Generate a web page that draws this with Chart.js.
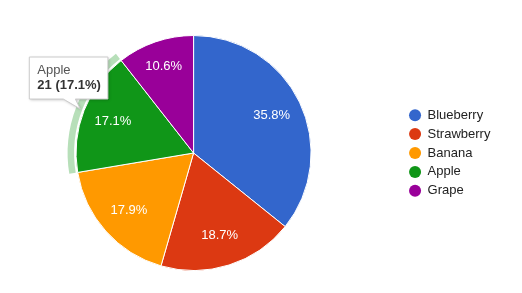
<!DOCTYPE html>
<html>
<head>
<meta charset="utf-8">
<script src="https://cdn.jsdelivr.net/npm/chart.js@4/dist/chart.umd.min.js"></script>
<style>
  html, body { margin: 0; padding: 0; background: #ffffff; }
  canvas { display: block; }
</style>
</head>
<body>
<canvas id="c" width="522" height="293"></canvas>
<script>
const categories = ['Blueberry', 'Strawberry', 'Banana', 'Apple', 'Grape'];
const values = [44, 23, 22, 21, 13];
const colors = ['#3366cc', '#dc3912', '#ff9900', '#109618', '#990099'];
const highlightIndex = 3;

const FONT = '"Liberation Sans", Arial, Helvetica, sans-serif';
const total = values.reduce((a, b) => a + b, 0);
const pct = v => (v / total * 100).toFixed(1) + '%';

function arcProps(chart, i) {
  const el = chart.getDatasetMeta(0).data[i];
  return el.getProps(['x', 'y', 'startAngle', 'endAngle', 'outerRadius'], true);
}

// Shift the pie's plotting area left so the pie sits left of centre, as in the reference.
const shiftArea = {
  id: 'shiftArea',
  afterLayout(chart) {
    const a = chart.chartArea;
    a.left -= 16;
    a.width = a.right - a.left;
  }
};

const sliceLabels = {
  id: 'sliceLabels',
  afterDatasetsDraw(chart) {
    const ctx = chart.ctx;
    ctx.save();
    ctx.font = '13px ' + FONT;
    ctx.fillStyle = '#ffffff';
    ctx.textAlign = 'center';
    ctx.textBaseline = 'middle';
    values.forEach((v, i) => {
      const p = arcProps(chart, i);
      const mid = (p.startAngle + p.endAngle) / 2;
      const frac = (p.endAngle - p.startAngle) / (2 * Math.PI);
      const r = p.outerRadius * (frac < 0.12 ? 0.78 : 0.737);
      ctx.fillText(pct(v), p.x + Math.cos(mid) * r, p.y + Math.sin(mid) * r);
    });
    ctx.restore();
  }
};

const hoverRing = {
  id: 'hoverRing',
  afterDatasetsDraw(chart) {
    const ctx = chart.ctx;
    const p = arcProps(chart, highlightIndex);
    ctx.save();
    ctx.beginPath();
    ctx.arc(p.x, p.y, p.outerRadius + 8.5, p.startAngle, p.endAngle);
    ctx.arc(p.x, p.y, p.outerRadius + 2, p.endAngle, p.startAngle, true);
    ctx.closePath();
    ctx.fillStyle = 'rgba(16,150,24,0.3)';
    ctx.fill();
    ctx.restore();
  }
};

const customTooltip = {
  id: 'customTooltip',
  afterDraw(chart) {
    const ctx = chart.ctx;
    const p = arcProps(chart, highlightIndex);
    const mid = (p.startAngle + p.endAngle) / 2;
    const tipX = p.x + Math.cos(mid) * (p.outerRadius + 4);
    const tipY = p.y + Math.sin(mid) * (p.outerRadius + 4);
    const line1 = categories[highlightIndex];
    const line2 = values[highlightIndex] + ' (' + pct(values[highlightIndex]) + ')';
    ctx.save();
    ctx.font = 'bold 13px ' + FONT;
    const w2 = ctx.measureText(line2).width;
    ctx.font = '13px ' + FONT;
    const w1 = ctx.measureText(line1).width;
    const bw = Math.max(w1, w2) + 15;
    const bh = 42;
    const bottom = tipY - 10;
    const top = bottom - bh;
    const left = tipX - 51;
    const right = left + bw;
    ctx.beginPath();
    ctx.moveTo(left, top);
    ctx.lineTo(right, top);
    ctx.lineTo(right, bottom);
    ctx.lineTo(tipX - 5, bottom);
    ctx.lineTo(tipX, tipY);
    ctx.lineTo(tipX - 17, bottom);
    ctx.lineTo(left, bottom);
    ctx.closePath();
    ctx.shadowColor = 'rgba(0,0,0,0.25)';
    ctx.shadowBlur = 3;
    ctx.shadowOffsetX = 1;
    ctx.shadowOffsetY = 1;
    ctx.fillStyle = '#ffffff';
    ctx.fill();
    ctx.shadowColor = 'transparent';
    ctx.strokeStyle = '#cccccc';
    ctx.lineWidth = 1;
    ctx.stroke();
    ctx.textAlign = 'left';
    ctx.textBaseline = 'alphabetic';
    ctx.fillStyle = '#555555';
    ctx.font = '13px ' + FONT;
    ctx.fillText(line1, left + 8, top + 17);
    ctx.fillStyle = '#333333';
    ctx.font = 'bold 13px ' + FONT;
    ctx.fillText(line2, left + 8, top + 32);
    ctx.restore();
  }
};

new Chart(document.getElementById('c'), {
  type: 'pie',
  data: {
    labels: categories,
    datasets: [{
      data: values,
      backgroundColor: colors,
      borderColor: '#ffffff',
      borderWidth: 1,
      hoverOffset: 0
    }]
  },
  options: {
    responsive: false,
    animation: false,
    events: [],
    layout: { padding: { left: 0, top: 35, bottom: 22, right: 21.6 } },
    plugins: {
      tooltip: { enabled: false },
      legend: {
        position: 'right',
        align: 'center',
        labels: {
          usePointStyle: true,
          pointStyle: 'circle',
          boxWidth: 12,
          boxHeight: 8.5,
          padding: 5.9,
          color: '#222222',
          font: { size: 13, family: FONT },
          generateLabels(chart) {
            const items = Chart.overrides.pie.plugins.legend.labels.generateLabels(chart);
            items.forEach(it => { it.lineWidth = 0; it.strokeStyle = 'transparent'; });
            return items;
          }
        }
      }
    }
  },
  plugins: [shiftArea, sliceLabels, hoverRing, customTooltip]
});
</script>
</body>
</html>
